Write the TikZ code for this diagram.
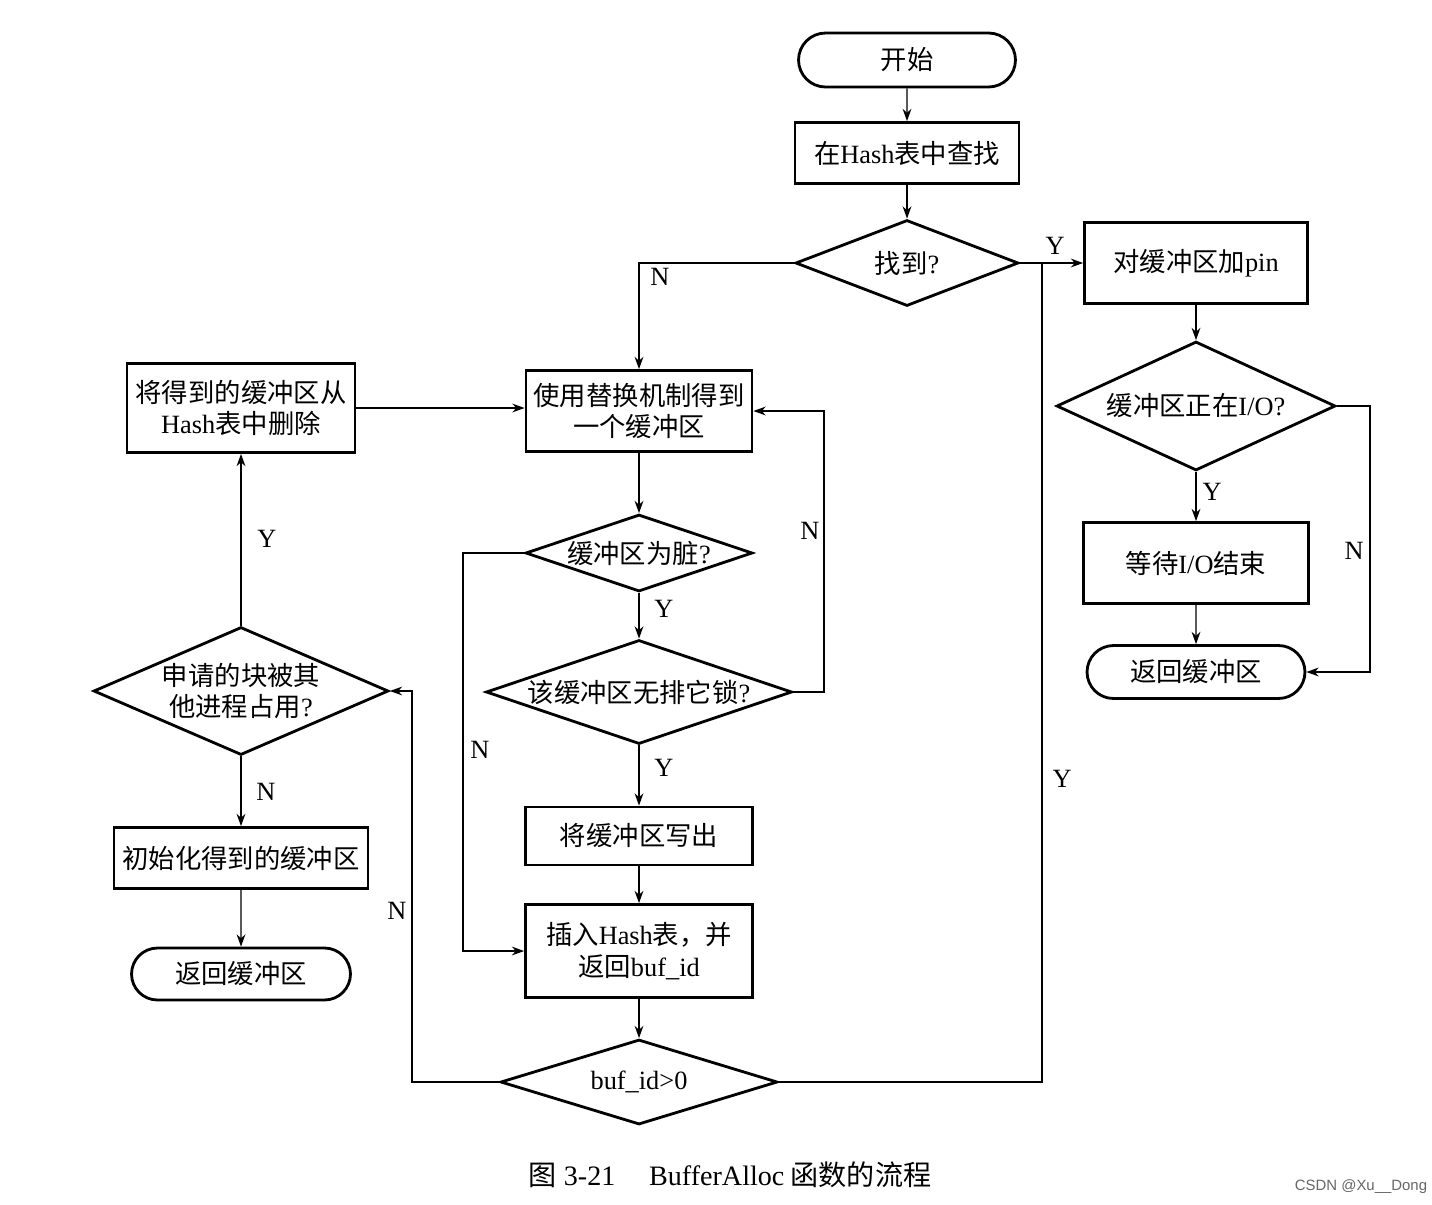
\documentclass[tikz,border=0pt]{standalone}
\usepackage{fontspec}
\setmainfont{Noto Sans CJK SC}
\newfontfamily\lat{Liberation Serif}
\newfontfamily\wmfont{Liberation Sans}
\usetikzlibrary{shapes.geometric,shapes.misc,arrows.meta}

\begin{document}
\begin{tikzpicture}[x=0.02cm, y=-0.02cm,
    font=\fontsize{15pt}{18pt}\selectfont,
    boxnode/.style={rectangle, draw=black, line width=1.6pt, align=center, inner sep=2pt},
    endnode/.style={rounded rectangle, draw=black, line width=1.6pt, align=center, inner sep=2pt},
    decnode/.style={diamond, draw=black, line width=1.6pt, align=center, inner sep=0pt, aspect=2.8},
    lbl/.style={inner sep=1pt, font=\fontsize{15pt}{18pt}\lat},
    arr/.style={line width=0.8pt, -{Stealth[length=7pt,width=5pt]}},
    ln/.style={line width=0.8pt}
    ]
    \useasboundingbox (0,0) rectangle (1432,1204);

    % main column
    \node [endnode, minimum width=4.48cm, minimum height=1.08cm] (start) at (907,60) {开始};
    \node [boxnode, minimum width=4.48cm, minimum height=1.22cm] (hash) at (907,153) {在{\lat Hash}表中查找};
    \node [decnode, minimum width=4.46cm, minimum height=1.72cm] (found) at (907,263) {找到{\lat ?}};

    % right column
    \node [boxnode, minimum width=4.46cm, minimum height=1.62cm] (pin) at (1196,263) {对缓冲区加{\lat pin}};
    \node [decnode, minimum width=5.58cm, minimum height=2.58cm] (io) at (1196,406) {缓冲区正在{\lat I/O?}};
    \node [boxnode, minimum width=4.5cm, minimum height=1.62cm] (wait) at (1196,563) {等待{\lat I/O}结束};
    \node [endnode, minimum width=4.5cm, minimum height=1.06cm] (retr) at (1196,672) {返回缓冲区};

    % middle column
    \node [boxnode, minimum width=4.52cm, minimum height=1.62cm] (replace) at (639,411) {使用替换机制得到\\一个缓冲区};
    \node [decnode, minimum width=4.54cm, minimum height=1.54cm] (dirty) at (639,553) {缓冲区为脏{\lat ?}};
    \node [decnode, minimum width=6.12cm, minimum height=1.98cm] (lock) at (639,692) {该缓冲区无排它锁{\lat ?}};
    \node [boxnode, minimum width=4.54cm, minimum height=1.16cm] (write) at (639,836) {将缓冲区写出};
    \node [boxnode, minimum width=4.54cm, minimum height=1.86cm] (insert) at (639,951) {插入{\lat Hash}表，并\\返回{\lat buf\_id}};
    \node [decnode, minimum width=5.54cm, minimum height=1.7cm] (buf) at (639,1082) {{\lat buf\_id>0}};

    % left column
    \node [boxnode, minimum width=4.56cm, minimum height=1.78cm] (del) at (241,408) {将得到的缓冲区从\\{\lat Hash}表中删除};
    \node [decnode, inner sep=-6pt, minimum width=5.9cm, minimum height=2.56cm] (busy) at (241,691) {申请的块被其\\他进程占用{\lat ?}};
    \node [boxnode, minimum width=5.08cm, minimum height=1.22cm] (init) at (241,858) {初始化得到的缓冲区};
    \node [endnode, minimum width=4.52cm, minimum height=1.04cm] (retl) at (241,974) {返回缓冲区};

    \coordinate (ioR) at (1370,406);
    \coordinate (dirtyL) at (463,553);
    \coordinate (lockR) at (824,692);
    \coordinate (bufL) at (412,1082);
    \coordinate (bufR) at (1042,1082);

    \draw [arr] (start) -- (hash);
    \draw [arr] (hash) -- (found);
    \draw [arr] (found.east) -- (pin.west);
    \draw [arr] (found.west) -| (replace.north);
    \draw [arr] (pin) -- (io);
    \draw [arr] (io) -- (wait);
    \draw [arr] (wait) -- (retr);
    \draw [arr] (io.east) -- (ioR) |- (retr.east);

    \draw [arr] (replace) -- (dirty);
    \draw [arr] (dirty) -- (lock);
    \draw [arr] (lock) -- (write);
    \draw [arr] (write) -- (insert);
    \draw [arr] (insert) -- (buf);
    \draw [arr] (dirty.west) -- (dirtyL) |- (insert.west);
    \draw [arr] (lock.east) -- (lockR) |- (replace.east);
    \draw [arr] (buf.west) -- (bufL) |- (busy.east);
    \draw [ln] (buf.east) -- (bufR) -- (bufR |- found.east);

    \draw [arr] (del.east) -- (replace.west |- del.east);
    \draw [arr] (busy) -- (del);
    \draw [arr] (busy) -- (init);
    \draw [arr] (init) -- (retl);

    % Y / N
    \node [lbl] (l1) at (1055,246) {Y};
    \node [lbl] (l2) at (660,277) {N};
    \node [lbl] (l3) at (1212,492) {Y};
    \node [lbl] (l4) at (1354,551) {N};
    \node [lbl] (l5) at (810,531) {N};
    \node [lbl] (l6) at (664,609) {Y};
    \node [lbl] (l7) at (664,768) {Y};
    \node [lbl] (l8) at (480,750) {N};
    \node [lbl] (l9) at (397,911) {N};
    \node [lbl] (l10) at (1062,779) {Y};
    \node [lbl] (l11) at (267,539) {Y};
    \node [lbl] (l12) at (266,792) {N};

    \node (caption) at (730,1175) {\fontsize{16pt}{18pt}\selectfont 图{\lat\ 3-21}\hspace{1.2em}{\lat BufferAlloc} 函数的流程};
    \node [text=black!60, font=\fontsize{8.5pt}{10pt}\wmfont] (mark) at (1361,1187) {CSDN @Xu\_\_Dong};
\end{tikzpicture}
\end{document}
